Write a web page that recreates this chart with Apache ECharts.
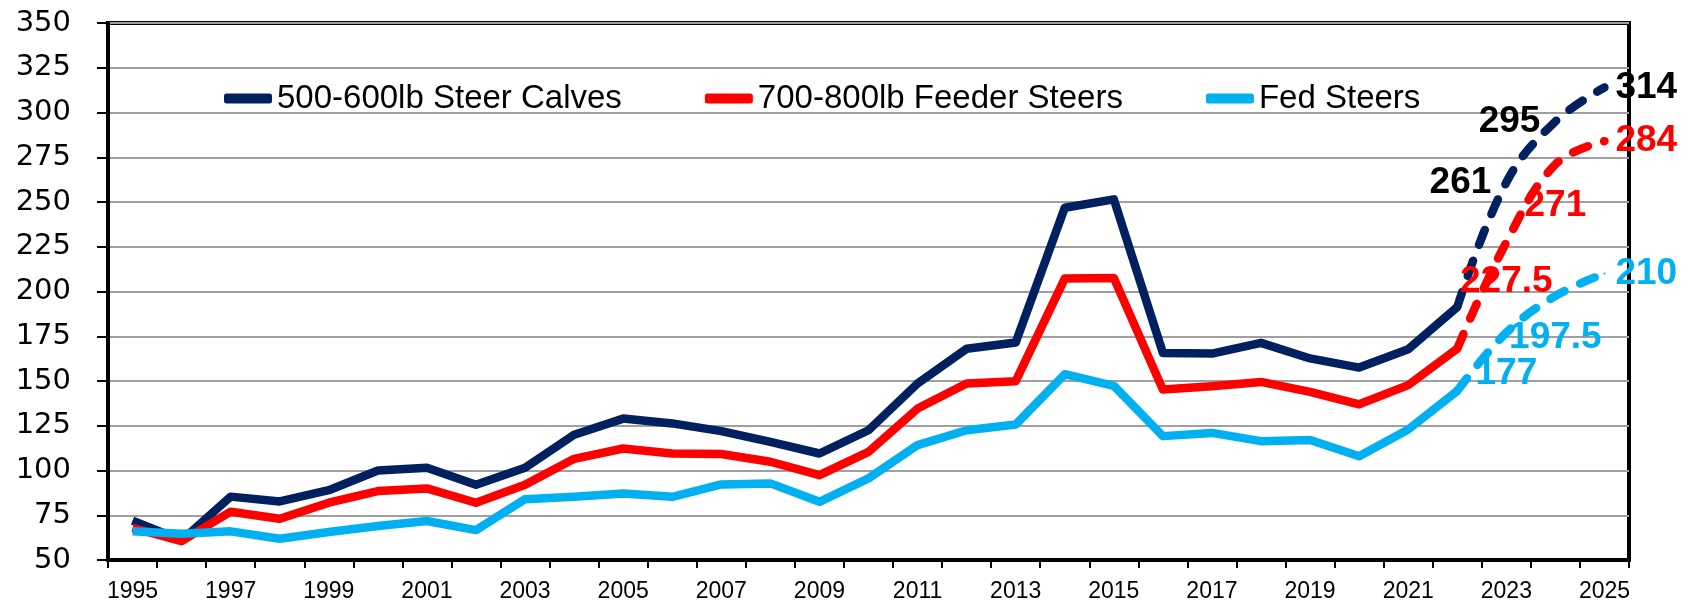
<!DOCTYPE html>
<html lang="en">
<head>
    <meta charset="UTF-8">
    <title>Steer prices</title>
    <script src="https://cdn.jsdelivr.net/npm/echarts@6/dist/echarts.min.js"></script>
    <style>
        html, body { margin: 0; padding: 0; background: #fff; }
        #main { width: 1694px; height: 606px; }
    </style>
</head>
<body>
<div id="main"></div>
<script type="text/javascript">
    var years = ['1995', '1996', '1997', '1998', '1999', '2000', '2001', '2002', '2003', '2004',
        '2005', '2006', '2007', '2008', '2009', '2010', '2011', '2012', '2013', '2014',
        '2015', '2016', '2017', '2018', '2019', '2020', '2021', '2022', '2023', '2024', '2025'];

    // actual prices, 1995-2022
    var steerCalves = [72, 61, 85.4, 82.7, 89, 100, 101.5, 92, 101.5, 120,
        129, 126.3, 122, 116, 109.5, 122.5, 148.6, 168, 171.5, 246.8,
        251.5, 165.7, 165.3, 171.3, 162.6, 157.5, 167.7, 191.3];
    var feederSteers = [68, 60.5, 77, 73, 82, 88.5, 90, 82, 92, 106.5,
        112.3, 109.5, 109.2, 104.9, 97.4, 110.4, 134.6, 148.6, 149.9, 207.2,
        207.6, 145.2, 147.1, 149.5, 143.9, 137, 147.7, 168.1];
    var fedSteers = [66.1, 64.6, 66, 61.9, 65.6, 69, 71.8, 66.7, 84, 85.3,
        87.2, 85.3, 92.2, 92.8, 82.5, 95.6, 114.2, 122.5, 125.7, 153.8,
        147.3, 119.2, 121, 116.4, 117, 108, 122.9, 144.5];

    // projections 2023-2025
    var steerCalvesProj = [261, 295, 314];
    var feederSteersProj = [227.5, 271, 284];
    var fedSteersProj = [177, 197.5, 210];

    var navy = '#002060', red = '#FF0000', cyan = '#00B0F0';
    var lineW = 8.5;

    // solid line: actual values, blank for projected years
    function actual(vals) {
        var res = vals.slice();
        while (res.length < years.length) res.push(null);
        return res;
    }

    // dashed line: starts at the last actual point, labels on projected points
    function projected(vals, proj, labels) {
        var res = [];
        for (var i = 0; i < vals.length - 1; i++) res.push(null);
        res.push(vals[vals.length - 1]);
        for (var j = 0; j < proj.length; j++) {
            res.push({
                value: proj[j],
                label: {
                    show: true,
                    position: labels.pos[j],
                    distance: labels.dist[j],
                    color: labels.color,
                    fontFamily: 'Liberation Sans',
                    fontWeight: 'bold',
                    fontSize: 37
                }
            });
        }
        return res;
    }

    function solidSeries(name, data, color) {
        return {
            name: name,
            type: 'line',
            data: data,
            symbol: 'none',
            itemStyle: { color: color },
            lineStyle: { color: color, width: lineW, join: 'round' }
        };
    }

    function projSeries(name, data, color) {
        return {
            name: name,
            type: 'line',
            smooth: 0.4,
            symbol: 'circle',
            symbolSize: 2,
            showSymbol: true,
            showAllSymbol: true,
            data: data,
            itemStyle: { color: color },
            lineStyle: { color: color, width: lineW, type: [16, 17], cap: 'round' }
        };
    }

    var myChart = echarts.init(document.getElementById('main'));

    var option = {
        animation: false,
        backgroundColor: '#fff',
        grid: {
            left: 108, right: 65, top: 23, bottom: 46,
            show: true,
            borderColor: '#000',
            borderWidth: 4
        },
        legend: {
            left: 219,
            top: 77,
            itemWidth: 48,
            itemHeight: 10,
            itemGap: 83,
            icon: 'roundRect',
            textStyle: { fontFamily: 'Liberation Sans', fontSize: 33, color: '#000' },
            data: ['500-600lb Steer Calves', '700-800lb Feeder Steers', 'Fed Steers']
        },
        xAxis: {
            type: 'category',
            data: years,
            boundaryGap: true,
            axisLine: { lineStyle: { color: '#000', width: 4 } },
            axisTick: { show: true, interval: 0, length: 8, lineStyle: { color: '#000', width: 2 } },
            axisLabel: {
                interval: 1,
                margin: 20,
                fontFamily: 'Liberation Sans',
                fontSize: 23,
                color: '#000'
            },
            splitLine: { show: false }
        },
        yAxis: {
            type: 'value',
            min: 50,
            max: 350,
            interval: 25,
            axisLine: { show: true, lineStyle: { color: '#000', width: 4 } },
            axisTick: { show: true, length: 11, lineStyle: { color: '#000', width: 2 } },
            axisLabel: {
                margin: 37,
                fontFamily: 'DejaVu Sans',
                fontSize: 29,
                color: '#000'
            },
            splitLine: { lineStyle: { color: '#A0A0A0', width: 2 } }
        },
        series: [
            solidSeries('500-600lb Steer Calves', actual(steerCalves), navy),
            solidSeries('700-800lb Feeder Steers', actual(feederSteers), red),
            solidSeries('Fed Steers', actual(fedSteers), cyan),
            projSeries('calves projection',
                projected(steerCalves, steerCalvesProj,
                    { pos: ['left', 'left', 'right'], dist: [14, 14, 10], color: '#000' }), navy),
            projSeries('feeder projection',
                projected(feederSteers, feederSteersProj,
                    { pos: ['bottom', 'bottom', 'right'], dist: [20, 22, 10], color: red }), red),
            projSeries('fed projection',
                projected(fedSteers, fedSteersProj,
                    { pos: ['bottom', 'bottom', 'right'], dist: [22, 22, 10], color: cyan }), cyan)
        ]
    };

    myChart.setOption(option);
</script>
</body>
</html>
